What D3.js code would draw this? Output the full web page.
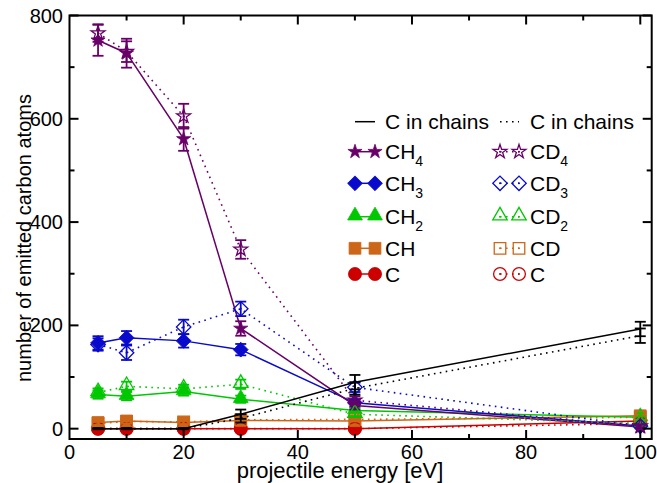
<!DOCTYPE html>
<html>
<head>
<meta charset="utf-8">
<script src="https://cdn.jsdelivr.net/npm/d3@7"></script>
<style>
  html, body { margin: 0; padding: 0; background: #fff; }
  svg { display: block; font-family: "Liberation Sans", Arial, Helvetica, sans-serif; }
</style>
</head>
<body>
<svg id="chart" width="657" height="483"></svg>
<script>
// Projectile energies (eV)
const energy = [5, 10, 20, 30, 50, 100];

// Emitted carbon atoms per species: H-bombardment (solid) and D-bombardment (dotted)
const ch4 = [752, 727, 561, 194, 45, 3];
const cd4 = [766, 730, 605, 347, 55, 5];
const ch3 = [166, 176, 170, 153, 50, 5];
const cd3 = [163, 147, 197, 232, 80, 5];
const ch2 = [66, 63, 72, 57, 35, 22];
const cd2 = [70, 82, 77, 86, 28, 10];
const ch  = [12, 15, 12, 16, 15, 25];
const cd  = [10, 14, 13, 17, 18, 22];
const cH  = [0, 0, 0, 0, 0, 15];
const cD  = [0, 0, 0, 0, 0, 10];
const chainsH = [0, 0, 0, 28, 90, 193];
const chainsD = [0, 0, 0, 20, 78, 180];

// Statistical error bars
const ch4Err = [30, 28, 23, 14, 8, 3];
const cd4Err = [17, 20, 24, 18, 8, 3];
const ch3Err = [13, 13, 13, 11, 7, 3];
const cd3Err = [12, 14, 14, 14, 9, 3];
const ch2Err = [8, 8, 8, 7, 5, 4];
const cd2Err = [8, 9, 8, 9, 5, 3];
const chErr  = [4, 4, 4, 4, 4, 5];
const cdErr  = [3, 4, 4, 4, 4, 5];
const cHErr  = [1, 1, 1, 1, 1, 4];
const cDErr  = [1, 1, 1, 1, 1, 3];
const chainsHErr = [1, 1, 1, 9, 14, 14];
const chainsDErr = [1, 1, 1, 8, 12, 14];

// Axis ticks
const xTicks = [0, 20, 40, 60, 80, 100];
const yTicks = [0, 200, 400, 600, 800];

const svg = d3.select("#chart");
const padL = 69.5, padR = 651.7, padT = 15.5, padB = 439;

const x = d3.scaleLinear().domain([0, 102]).range([padL, padR]);
const y = d3.scaleLinear().domain([-20, 800]).range([padB, padT]);

const PURPLE = "#680068", BLUE = "#0a0acc", GREEN = "#00c800", ORANGE = "#cc6618", RED = "#cc0000", BLACK = "#000";

// Marker shapes
const shapes = {
  star:    { sym: d3.symbolStar, size: 62, rot: 0 },
  diamond: { sym: d3.symbolSquare, size: 110, rot: 45 },
  triangle:{ sym: d3.symbolTriangle, size: 95, rot: 0, dy: -1 },
  square:  { sym: d3.symbolSquare, size: 140, rot: 0 },
  circle:  { sym: d3.symbolCircle, size: 135, rot: 0 }
};

function drawMarker(g, shape, cx, cy, color, filled) {
  const s = shapes[shape];
  const sz = filled ? s.size : s.size * 0.95;
  g.append("path")
    .attr("d", d3.symbol().type(s.sym).size(sz)())
    .attr("transform", `translate(${cx},${cy + (s.dy || 0)}) rotate(${s.rot})`)
    .attr("fill", filled ? color : "none")
    .attr("stroke", color)
    .attr("stroke-width", filled ? 0.8 : 1.3);
  if (!filled) {
    g.append("circle").attr("cx", cx).attr("cy", cy).attr("r", 1).attr("fill", color);
  }
}

const series = [
  { vals: cH,  err: cHErr,  color: RED,    shape: "circle",   filled: true,  dotted: false },
  { vals: ch,  err: chErr,  color: ORANGE, shape: "square",   filled: true,  dotted: false },
  { vals: ch2, err: ch2Err, color: GREEN,  shape: "triangle", filled: true,  dotted: false },
  { vals: ch3, err: ch3Err, color: BLUE,   shape: "diamond",  filled: true,  dotted: false },
  { vals: ch4, err: ch4Err, color: PURPLE, shape: "star",     filled: true,  dotted: false },
  { vals: cD,  err: cDErr,  color: RED,    shape: "circle",   filled: false, dotted: true },
  { vals: cd,  err: cdErr,  color: ORANGE, shape: "square",   filled: false, dotted: true },
  { vals: cd2, err: cd2Err, color: GREEN,  shape: "triangle", filled: false, dotted: true },
  { vals: cd3, err: cd3Err, color: BLUE,   shape: "diamond",  filled: false, dotted: true },
  { vals: cd4, err: cd4Err, color: PURPLE, shape: "star",     filled: false, dotted: true },
  { vals: chainsH, err: chainsHErr, color: BLACK, shape: null, filled: true,  dotted: false },
  { vals: chainsD, err: chainsDErr, color: BLACK, shape: null, filled: false, dotted: true }
];

const line = d3.line().x((d, i) => x(energy[i])).y(d => y(d));
const plot = svg.append("g");

series.forEach(s => {
  const g = plot.append("g");
  g.append("path")
    .attr("d", line(s.vals))
    .attr("fill", "none")
    .attr("stroke", s.color)
    .attr("stroke-width", s.dotted ? 1.6 : 1.5)
    .attr("stroke-dasharray", s.dotted ? "1.6,4.4" : null);
  // error bars
  s.vals.forEach((v, i) => {
    const cx = x(energy[i]);
    const y0 = y(v - s.err[i]), y1 = y(v + s.err[i]);
    g.append("line").attr("x1", cx).attr("x2", cx).attr("y1", y0).attr("y2", y1)
      .attr("stroke", s.color).attr("stroke-width", 1.8);
    [y0, y1].forEach(yy => g.append("line")
      .attr("x1", cx - 5.5).attr("x2", cx + 5.5).attr("y1", yy).attr("y2", yy)
      .attr("stroke", s.color).attr("stroke-width", 1.8));
  });
  if (s.shape) {
    s.vals.forEach((v, i) => drawMarker(g, s.shape, x(energy[i]), y(v), s.color, s.filled));
  }
});

// Frame and inward ticks on all four sides
const axes = svg.append("g");
axes.append("rect").attr("x", padL).attr("y", padT)
  .attr("width", padR - padL).attr("height", padB - padT)
  .attr("fill", "none").attr("stroke", "#000").attr("stroke-width", 2);

const xMinor = d3.range(10, 101, 20);
const yMinor = d3.range(100, 800, 200);
function tickLines(vals, len, isX) {
  vals.forEach(v => {
    if (isX) {
      const px = x(v);
      axes.append("line").attr("x1", px).attr("x2", px).attr("y1", padB).attr("y2", padB - len)
        .attr("stroke", "#000").attr("stroke-width", 2);
      axes.append("line").attr("x1", px).attr("x2", px).attr("y1", padT).attr("y2", padT + len)
        .attr("stroke", "#000").attr("stroke-width", 2);
    } else {
      const py = y(v);
      axes.append("line").attr("x1", padL).attr("x2", padL + len).attr("y1", py).attr("y2", py)
        .attr("stroke", "#000").attr("stroke-width", 2);
      axes.append("line").attr("x1", padR).attr("x2", padR - len).attr("y1", py).attr("y2", py)
        .attr("stroke", "#000").attr("stroke-width", 2);
    }
  });
}
tickLines(xTicks.filter(v => v > 0), 9, true);
tickLines(xMinor, 5, true);
tickLines(yTicks, 9, false);
tickLines(yMinor, 5, false);

// Tick labels
axes.selectAll("text.xt").data(xTicks).enter().append("text")
  .attr("x", d => x(d)).attr("y", 458.5)
  .attr("text-anchor", "middle").attr("font-size", 20).text(d => d);
axes.selectAll("text.yt").data(yTicks).enter().append("text")
  .attr("x", 63).attr("y", d => y(d) + 7)
  .attr("text-anchor", "end").attr("font-size", 20).text(d => d);

// Axis titles
svg.append("text").attr("x", 340).attr("y", 478)
  .attr("text-anchor", "middle").attr("font-size", 22).text("projectile energy [eV]");
svg.append("text").attr("transform", "translate(31,382) rotate(-90)")
  .attr("text-anchor", "start").attr("font-size", 20).text("number of emitted carbon atoms");

// Legend
const leg = svg.append("g");
const legRows = [
  { y: 121.7, h: { label: "C in chains", sub: "" }, d: { label: "C in chains", sub: "" }, color: BLACK, shape: null },
  { y: 151.7, h: { label: "CH", sub: "4" }, d: { label: "CD", sub: "4" }, color: PURPLE, shape: "star" },
  { y: 183.3, h: { label: "CH", sub: "3" }, d: { label: "CD", sub: "3" }, color: BLUE, shape: "diamond" },
  { y: 216.7, h: { label: "CH", sub: "2" }, d: { label: "CD", sub: "2" }, color: GREEN, shape: "triangle" },
  { y: 248.3, h: { label: "CH", sub: "" }, d: { label: "CD", sub: "" }, color: ORANGE, shape: "square" },
  { y: 274.0, h: { label: "C", sub: "" }, d: { label: "C", sub: "" }, color: RED, shape: "circle" }
];
function legendText(tx, ty, item) {
  const t = leg.append("text").attr("x", tx).attr("y", ty + 7.5).attr("font-size", 21);
  t.append("tspan").text(item.label);
  if (item.sub) t.append("tspan").attr("font-size", 14).attr("dy", 7).text(item.sub);
}
legRows.forEach(r => {
  // solid-line column
  leg.append("line").attr("x1", 355).attr("x2", 375).attr("y1", r.y).attr("y2", r.y)
    .attr("stroke", r.color).attr("stroke-width", 1.5);
  if (r.shape) { drawMarker(leg, r.shape, 355, r.y, r.color, true); drawMarker(leg, r.shape, 375, r.y, r.color, true); }
  legendText(385, r.y, r.h);
  // dotted-line column
  leg.append("line").attr("x1", 500).attr("x2", 519).attr("y1", r.y).attr("y2", r.y)
    .attr("stroke", r.color).attr("stroke-width", 1.6).attr("stroke-dasharray", "1.6,4.4");
  if (r.shape) { drawMarker(leg, r.shape, 500, r.y, r.color, false); drawMarker(leg, r.shape, 519, r.y, r.color, false); }
  legendText(530, r.y, r.d);
});
</script>
</body>
</html>
